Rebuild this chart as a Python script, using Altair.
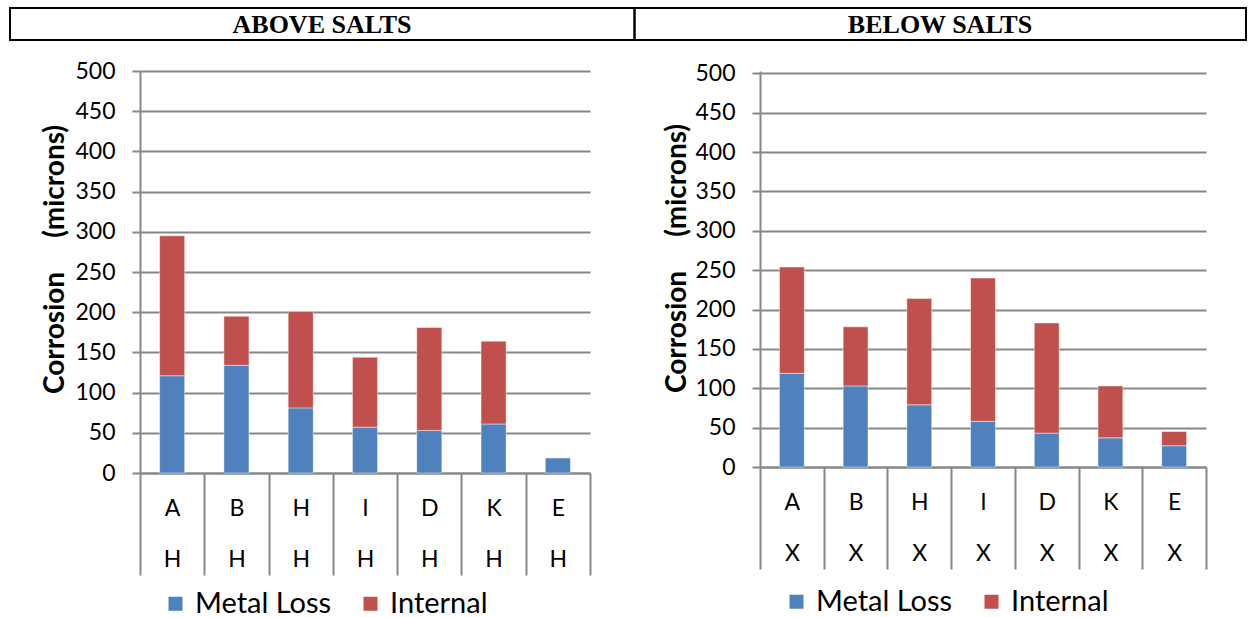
import altair as alt
import pandas as pd

# Sample categories and their second-row group labels
categories = ["A", "B", "H", "I", "D", "K", "E"]
above_group = ["H", "H", "H", "H", "H", "H", "H"]
below_group = ["X", "X", "X", "X", "X", "X", "X"]

# Corrosion depth in microns
above_metal_loss = [121, 134, 81, 57, 53, 61, 19]
above_internal = [174, 61, 120, 87, 128, 103, 0]
below_metal_loss = [119, 103, 79, 58, 43, 37, 27]
below_internal = [135, 75, 135, 182, 140, 66, 18]

series = ["Metal Loss", "Internal"]
series_colors = ["#4F81BD", "#C0504D"]
panel_titles = ["ABOVE SALTS", "BELOW SALTS"]
y_ticks = [0, 50, 100, 150, 200, 250, 300, 350, 400, 450, 500]

GRID = "#878787"
FONT = "Lato"


def long_table(cats, groups, metal, internal):
    rows = []
    for c, g, m, i in zip(cats, groups, metal, internal):
        key = f"{c}|{g}"
        rows.append({"cat": key, "series": series[0], "value": m, "ord": 0})
        rows.append({"cat": key, "series": series[1], "value": i, "ord": 1})
    return pd.DataFrame(rows)


def panel(cats, groups, metal, internal, title, width, height, ymax,
          head_x, head_x2, head_tx, ytitle_x, ytitle_y, legend_x, legend_y):
    df = long_table(cats, groups, metal, internal)
    order = [f"{c}|{g}" for c, g in zip(cats, groups)]

    bars = alt.Chart(df).mark_bar(
        width=alt.RelativeBandSize(0.39),
        stroke="white", strokeWidth=1, strokeOpacity=0.45,
    ).encode(
        x=alt.X(
            "cat:N", sort=order,
            scale=alt.Scale(paddingInner=0, paddingOuter=0),
            axis=alt.Axis(
                title=None, labelExpr="split(datum.label, '|')",
                labelAngle=0, labelBaseline="middle", labelLineHeight=51,
                labelPadding=-67, labelFontSize=23, labelColor="black",
                labelFont=FONT, tickBand="extent", tickSize=102,
                tickColor=GRID, tickWidth=2, domainColor=GRID,
                domainWidth=2, grid=False,
            ),
        ),
        y=alt.Y(
            "value:Q", stack="zero",
            scale=alt.Scale(domain=[0, ymax], nice=False),
            axis=alt.Axis(
                values=y_ticks,
                title="Corrosion\u00a0\u00a0\u00a0\u00a0\u00a0(microns)",
                titleFont=FONT, titleFontSize=28, titleFontWeight="bold",
                titleColor="black", titleAngle=270, titleX=ytitle_x,
                titleY=ytitle_y, titleAlign="center", titleBaseline="middle",
                labelFont=FONT, labelFontSize=23, labelColor="black",
                labelPadding=17, tickSize=8, tickColor=GRID, tickWidth=2,
                domainColor=GRID, domainWidth=2, gridColor=GRID, gridWidth=2,
            ),
        ),
        color=alt.Color(
            "series:N",
            scale=alt.Scale(domain=series, range=series_colors),
            legend=alt.Legend(
                title=None, orient="none", legendX=legend_x, legendY=legend_y,
                direction="horizontal", columns=2, symbolType="square",
                symbolSize=196, symbolStrokeWidth=0, labelFont=FONT,
                labelFontSize=29, labelColor="black", labelOffset=5,
                columnPadding=24, padding=0,
            ),
        ),
        order=alt.Order("ord:Q"),
    )

    head = alt.Chart(pd.DataFrame({"label": [title]}))
    box = head.mark_rect(filled=False, stroke="black", strokeWidth=2).encode(
        x=alt.value(head_x), x2=alt.value(head_x2),
        y=alt.value(-63), y2=alt.value(-31),
    )
    text = head.mark_text(
        font="Liberation Serif", fontSize=26, fontWeight="bold",
        color="black", align="center", baseline="alphabetic",
    ).encode(text="label:N", x=alt.value(head_tx), y=alt.value(-38))

    return alt.layer(box, text, bars).properties(width=width, height=height)


left = panel(categories, above_group, above_metal_loss, above_internal,
             panel_titles[0], 450, 402, 500,
             -130, 494.5, 182, -85, 188, 21, 518)
right = panel(categories, below_group, below_metal_loss, below_internal,
              panel_titles[1], 446, 396, 503,
              -125.5, 486, 180, -83, 187, 22, 516)

chart = alt.hconcat(left, right, spacing=170, bounds="flush").resolve_scale(
    x="independent", y="independent", color="independent"
).resolve_legend(color="independent").properties(
    padding={"left": 9, "top": 7, "right": 0, "bottom": 0}
).configure(font=FONT).configure_view(strokeWidth=0)

chart.save("out.html", embed_options={"renderer": "svg", "actions": False})
